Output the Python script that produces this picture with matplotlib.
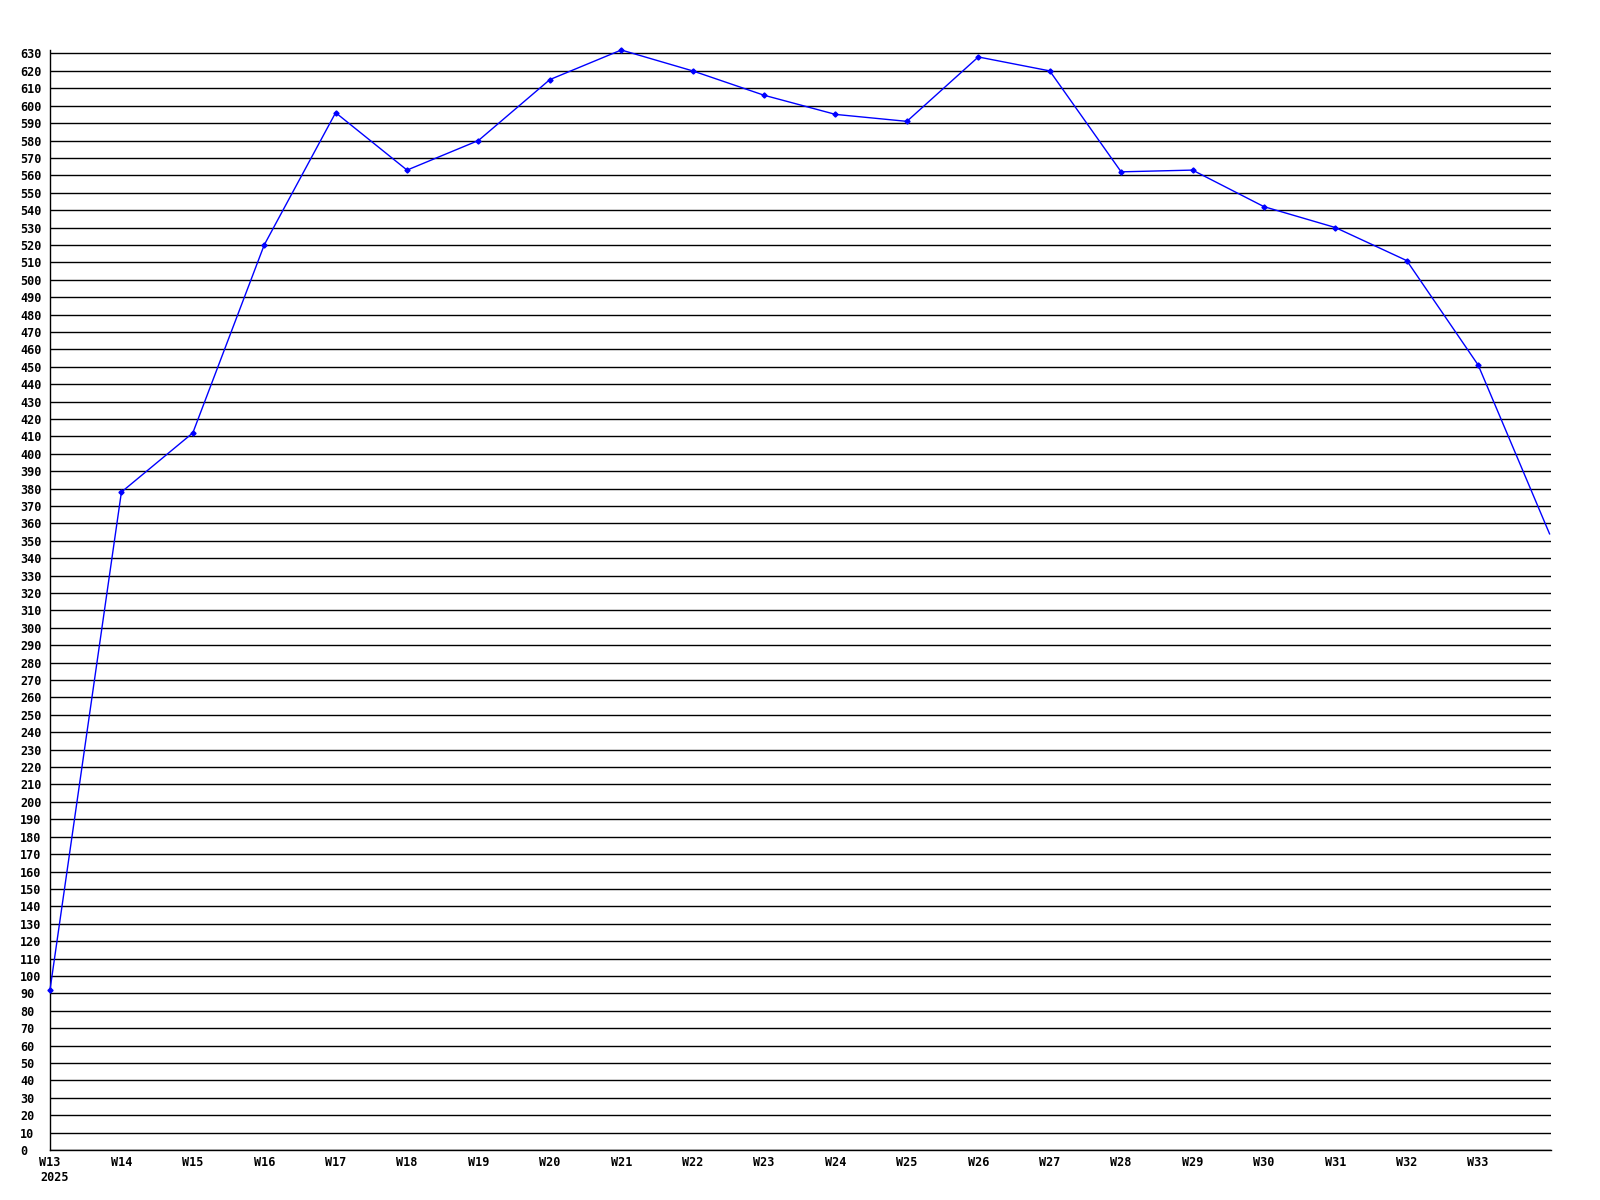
import matplotlib
matplotlib.use("Agg")
import matplotlib.pyplot as plt
import numpy as np

# weekly values, W13 .. W34 (W34 sits on the right edge, unlabelled)
weeks = ['W13', 'W14', 'W15', 'W16', 'W17', 'W18', 'W19', 'W20', 'W21', 'W22', 'W23',
         'W24', 'W25', 'W26', 'W27', 'W28', 'W29', 'W30', 'W31', 'W32', 'W33']
values = [92, 378, 412, 520, 596, 563, 580, 615, 632, 620, 606,
          595, 591, 628, 620, 562, 563, 542, 530, 511, 451, 354]
year_label = '2025'
y_ticks = list(range(0, 631, 10))

plt.rcParams['font.family'] = 'DejaVu Sans Mono'
plt.rcParams['font.weight'] = 'bold'

fig = plt.figure(figsize=(16, 12), dpi=100)
ax = fig.add_axes([50 / 1600, 50 / 1200, 1501 / 1600, 1100 / 1200])

x = np.arange(len(values))
ax.plot(x, values, color='#0000ff', linewidth=1.0, marker='D', markersize=2.6,
        markevery=list(range(len(weeks))), clip_on=False, zorder=3)

ax.set_xlim(0, 21.02)
ax.set_ylim(0, 632)

ax.set_yticks(y_ticks)
ax.set_yticklabels([str(v) for v in y_ticks])
ax.set_xticks(np.arange(len(weeks)))
ax.set_xticklabels(weeks)

ax.grid(axis='y', color='black', linewidth=1.0)
ax.set_axisbelow(True)
ax.tick_params(axis='both', length=0, labelsize=8.5)
ax.tick_params(axis='y', pad=21.6)
for lab in ax.get_yticklabels():
    lab.set_horizontalalignment('left')
    lab.set_fontweight('bold')
ax.tick_params(axis='x', pad=4.5)
for lab in ax.get_xticklabels():
    lab.set_fontweight('bold')

ax.annotate(year_label, xy=(0, 0), xycoords=('data', 'axes fraction'),
            xytext=(-7, -19.5), textcoords='offset points',
            ha='left', va='center', fontsize=8.5, fontweight='bold')

for side in ['top', 'right']:
    ax.spines[side].set_visible(False)
for side in ['left', 'bottom']:
    ax.spines[side].set_color('black')
    ax.spines[side].set_linewidth(1.0)

fig.savefig('out.png', dpi=100)
